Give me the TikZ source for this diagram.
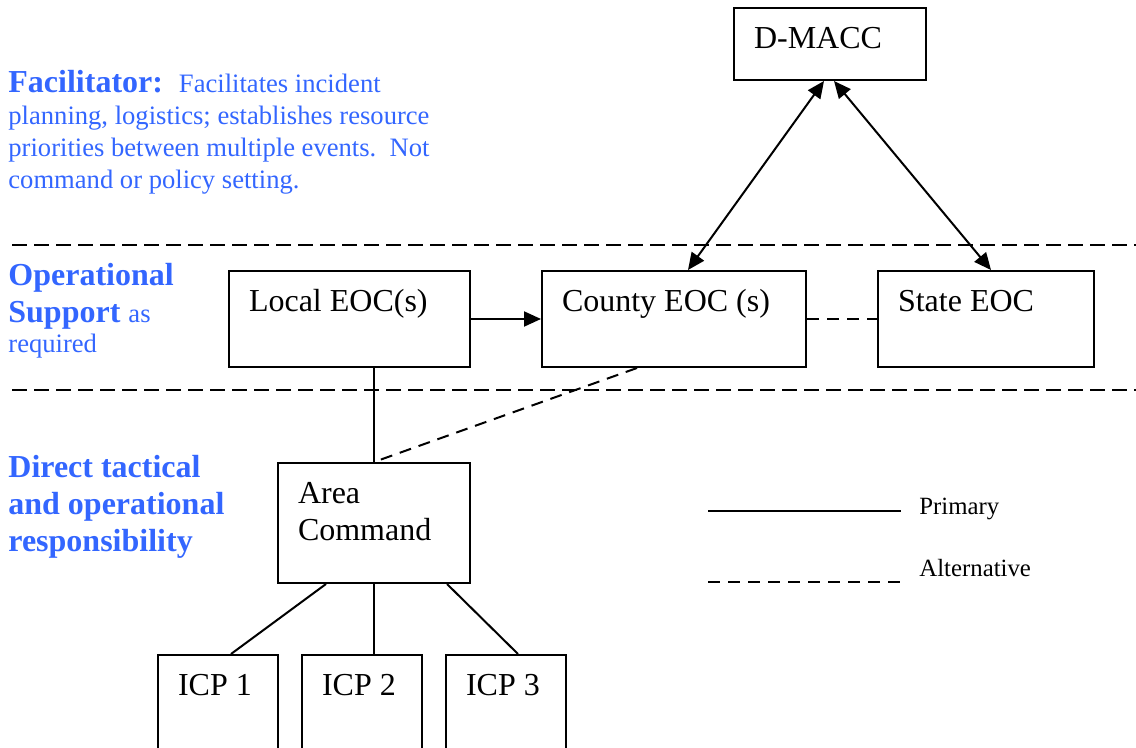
\documentclass[tikz,border=0pt]{standalone}
\usepackage{fontspec}
\setmainfont{Liberation Serif}
\usetikzlibrary{arrows.meta}
\definecolor{tierblue}{RGB}{51,102,255}
\begin{document}
\begin{tikzpicture}[x=0.5pt, y=-0.5pt,
    unit/.style={draw, line width=1pt, anchor=north west, align=flush left,
      inner xsep=10pt, inner ysep=0pt, text height=20.5pt,
      font=\fontsize{16}{18.5}\selectfont},
    tier/.style={anchor=base west, align=flush left, inner sep=0pt, text=tierblue,
      font=\fontsize{16}{18.5}\selectfont\bfseries},
    keytext/.style={anchor=base west, inner sep=0pt, font=\fontsize{12.4}{15}\selectfont},
    link/.style={line width=1pt},
    band/.style={line width=1pt, dash pattern=on 7.5pt off 3.5pt},
    alt/.style={line width=1pt, dash pattern=on 6pt off 4pt},
    oneway/.style={line width=1pt, -{Triangle[length=8.5pt,width=7.5pt]}},
    twoway/.style={line width=1pt, {Triangle[length=8.5pt,width=7.5pt]}-{Triangle[length=8.5pt,width=7.5pt]}}]
    \useasboundingbox (0,0) rectangle (1136,748);
    \clip (0,0) rectangle (1136,748);

    \draw[band] (12,245) -- (1136,245);
    \draw[band] (12,390) -- (1136,390);

    \node[tier, font=\fontsize{13.3}{16}\selectfont] (facil) at (8,189)
      {{\fontsize{16}{18.5}\selectfont\bfseries Facilitator:}\hspace{8pt}Facilitates incident\\
       planning, logistics; establishes resource\\
       priorities between multiple events.\ \ Not\\
       command or policy setting.};
    \node[tier] (opsup) at (8,353)
      {Operational\\
       Support {\mdseries\fontsize{13.3}{16}\selectfont as}\\[-3.5pt]
       {\mdseries\fontsize{13.3}{16}\selectfont required}};
    \node[tier] (direct) at (8,552) {Direct tactical\\and operational\\responsibility};

    \node[unit, text width=76pt, text depth=15.5pt] (dmacc) at (733,7) {D-MACC};
    \node[unit, text width=100.5pt, text depth=27.5pt] (local) at (228,270) {Local EOC(s)};
    \node[unit, text width=112pt, text depth=27.5pt] (county) at (541,270) {County EOC (s)};
    \node[unit, text width=88pt, text depth=27.5pt] (state) at (877,270) {State EOC};
    \node[unit, text width=76pt, text depth=39.5pt] (area) at (277,462) {Area\\Command};
    \node[unit, text width=40pt, text depth=60pt] (icp1) at (157,654) {ICP 1};
    \node[unit, text width=40pt, text depth=60pt] (icp2) at (301,654) {ICP 2};
    \node[unit, text width=40pt, text depth=60pt] (icp3) at (445,654) {ICP 3};

    \draw[twoway] ([xshift=-3pt]dmacc.south) -- ([xshift=7pt]county.north);
    \draw[twoway] ([xshift=2pt]dmacc.south) -- ([xshift=2.5pt]state.north);
    \draw[oneway] (local.east) -- (county.west);
    \draw[alt] (county.east) -- (state.west);
    \draw[link] (area.north |- local.south) -- (area.north);
    \draw[alt] ([xshift=-18.5pt]county.south) -- (area.north);
    \draw[link] ([xshift=-24pt]area.south) -- ([xshift=6.5pt]icp1.north);
    \draw[link] (area.south) -- (area.south |- icp2.north);
    \draw[link] ([xshift=36.5pt]area.south) -- ([xshift=6pt]icp3.north);

    \coordinate (solidA) at (708,511);
    \coordinate (solidB) at (901,511);
    \coordinate (dashA) at (708,582);
    \coordinate (dashB) at (901,582);
    \draw[link] (solidA) -- (solidB);
    \draw[alt] (dashA) -- (dashB);
    \node[keytext] (primary) at (919,515) {Primary};
    \node[keytext] (alternative) at (919,577) {Alternative};
\end{tikzpicture}
\end{document}
